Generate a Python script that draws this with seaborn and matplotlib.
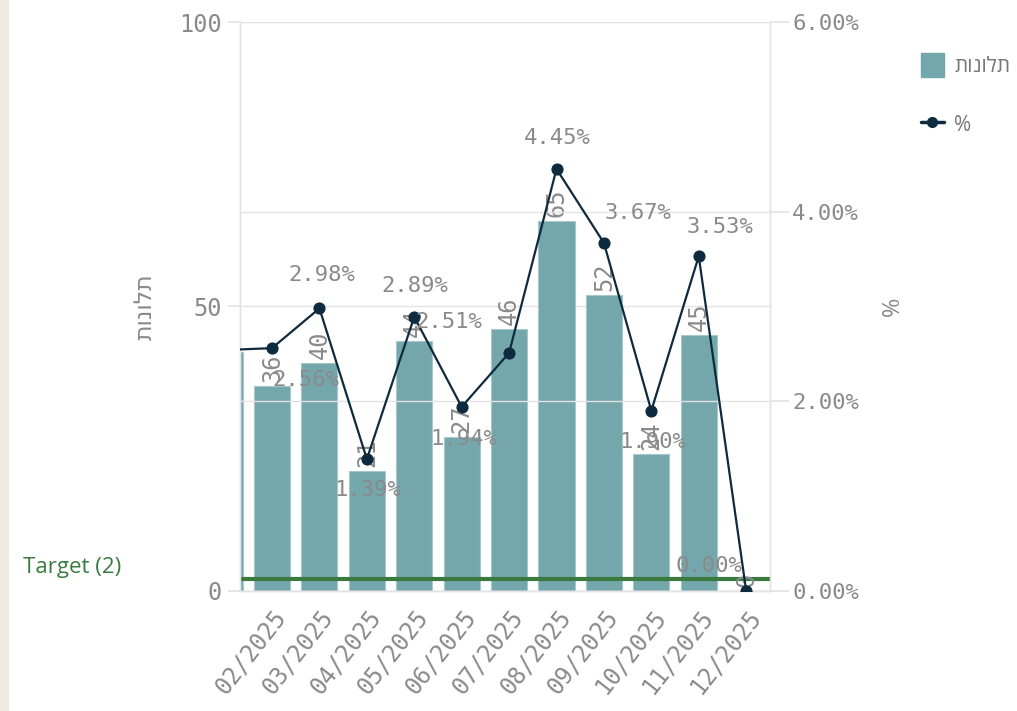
import matplotlib
matplotlib.use('Agg')
import matplotlib.pyplot as plt
from matplotlib.patches import Patch, Rectangle
from matplotlib.lines import Line2D
import seaborn as sns
import numpy as np
import pandas as pd

# data (01/2025 is only a sliver at the left edge)
months = ['01/2025', '02/2025', '03/2025', '04/2025', '05/2025', '06/2025',
          '07/2025', '08/2025', '09/2025', '10/2025', '11/2025', '12/2025']
complaints = [42, 36, 40, 21, 44, 27, 46, 65, 52, 24, 45, 0]
pct = [2.54, 2.56, 2.98, 1.39, 2.89, 1.94, 2.51, 4.45, 3.67, 1.90, 3.53, 0.00]
target = 2
left_ticks = [0, 50, 100]
right_ticks = [0, 2, 4, 6]

bar_name = 'תלונות'
pct_name = '%'

# label offsets (pixels) for the percent labels, to dodge each other like the original
pct_offsets = [(0, 30), (34, -32), (2, 33), (1, -31), (1, 31), (2, -32),
               (-60, 31), (1, 31), (34, 30), (1, -31), (21, 29), (-37, 25)]

BAR = '#74a7ac'
LINE = '#0e2a3e'
GREEN = '#3b7a3e'
GRAY = '#8a8a8a'
GRID = '#e4e4e4'
MONO = ['DejaVu Sans Mono', 'DejaVu Sans']
SANS = ['Open Sans', 'DejaVu Sans']


def rtl(s):
    # matplotlib has no bidi support, so flip hebrew for display
    return s[::-1]


sns.set_theme(style='white')
plt.rcParams['font.family'] = MONO

fig = plt.figure(figsize=(10.17, 7.11), dpi=100)
fig.patches.append(Rectangle((0, 0), 8 / 1017, 1, transform=fig.transFigure,
                             color='#efebe3', zorder=0))
ax = fig.add_axes([0.236, 0.169, 0.521, 0.800])

df = pd.DataFrame({'month': months, 'count': complaints})
sns.barplot(data=df, x='month', y='count', color=BAR, saturation=1, width=0.76,
            edgecolor='#a6c8cb', linewidth=0.8, ax=ax, zorder=2)

ax.axhline(target, color=GREEN, lw=3, zorder=3)
ax.annotate('Target (%d)' % target, xy=(0, target), xycoords=('axes fraction', 'data'),
            xytext=(-168, 12), textcoords='offset pixels', ha='center', va='center',
            color=GREEN, fontsize=16, family=SANS, annotation_clip=False)

for i in range(1, len(months)):
    ax.annotate(str(complaints[i]), xy=(i, complaints[i]), xytext=(0, 4),
                textcoords='offset pixels', rotation=90, ha='center', va='bottom',
                color=GRAY, fontsize=17, zorder=4)

ax2 = ax.twinx()
sns.lineplot(x=np.arange(len(months)), y=pct, ax=ax2, color=LINE, lw=1.6,
             marker='o', markersize=8, markeredgecolor=LINE, zorder=5)
for i in range(1, len(months)):
    ax2.annotate('%.2f%%' % pct[i], xy=(i, pct[i]), xytext=pct_offsets[i],
                 textcoords='offset pixels', ha='center', va='center',
                 color=GRAY, fontsize=16, zorder=6, annotation_clip=False)

ax.set_xlim(0.325, 11.5)
ax.set_ylim(0, 100)
ax2.set_ylim(0, 6)
ax.set_yticks(left_ticks)
ax2.set_yticks(right_ticks)
ax2.set_yticklabels(['%.2f%%' % t for t in right_ticks])

ax.yaxis.grid(True, color=GRID, lw=1)
ax2.yaxis.grid(True, color=GRID, lw=1)
ax.set_axisbelow(True)
for a in (ax, ax2):
    for s in a.spines.values():
        s.set_color(GRID)
        s.set_linewidth(1)
    a.spines['top'].set_visible(False)

ax.tick_params(axis='y', length=9, color=GRID, labelcolor=GRAY, labelsize=17, pad=4)
ax2.tick_params(axis='y', length=14, color=GRID, labelcolor=GRAY, labelsize=16, pad=2)
ax.tick_params(axis='x', length=0, labelcolor=GRAY, labelsize=17, pad=10)
for lbl in ax.get_xticklabels():
    lbl.set_rotation(52)
    lbl.set_ha('right')
    lbl.set_rotation_mode('anchor')

ax.set_xlabel('')
ax.set_ylabel(rtl(bar_name), color=GRAY, fontsize=17, labelpad=16)
ax2.set_ylabel(pct_name, color=GRAY, fontsize=17, labelpad=16, family=SANS)

handles = [Patch(facecolor=BAR, edgecolor=BAR),
           Line2D([], [], color=LINE, lw=2.5, marker='o', markersize=7)]
fig.legend(handles, [rtl(bar_name), pct_name], loc='upper left',
           bbox_to_anchor=(0.887, 0.952), frameon=False,
           labelcolor='#777777', handlelength=1.1, handleheight=1.4,
           labelspacing=1.7, handletextpad=0.5, prop={'family': SANS, 'size': 15})

fig.savefig('out.png', dpi=100)
